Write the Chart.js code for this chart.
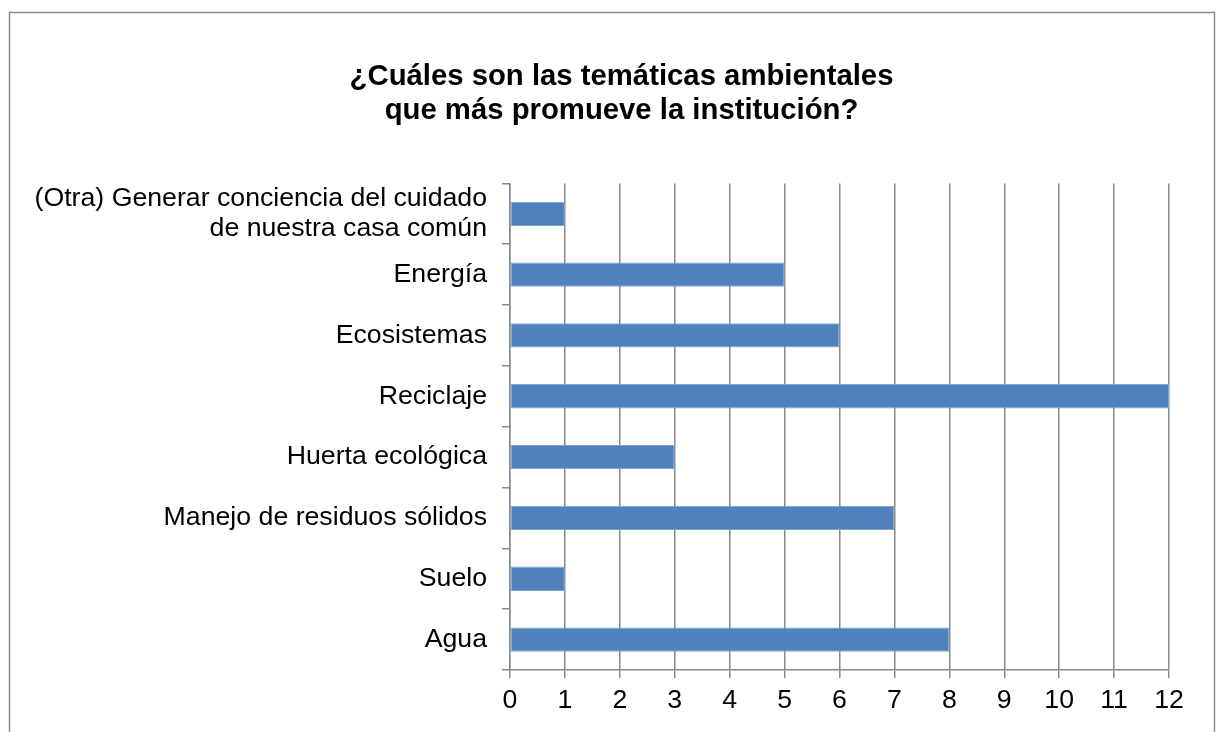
<!DOCTYPE html>
<html>
<head>
<meta charset="utf-8">
<title>Temáticas ambientales</title>
<script src="https://cdn.jsdelivr.net/npm/chart.js@4"></script>
<style>
  html, body { margin: 0; padding: 0; background: #ffffff; }
  canvas { display: block; }
</style>
</head>
<body>
<canvas id="chart" width="1218" height="732"></canvas>
<script>
// Categories, top to bottom as they appear in the chart
const categories = [
    ["(Otra) Generar conciencia del cuidado", "de nuestra casa común"],
    "Energía",
    "Ecosistemas",
    "Reciclaje",
    "Huerta ecológica",
    "Manejo de residuos sólidos",
    "Suelo",
    "Agua",
];

// Number of answers per category
const values = [1, 5, 6, 12, 3, 7, 1, 8];

// Title lines
const titleLines = ["¿Cuáles son las temáticas ambientales", "que más promueve la institución?"];

// x axis range
const xMin = 0;
const xMax = 12;
const xStep = 1;

const gridColor = "#8a8a8a";
const fontFamily = "'Liberation Sans', Arial, sans-serif";

// Outer frame round the chart, and nudge the title a bit to the right
const framePlugin = {
    id: "frame",
    afterLayout(chart) {
        if (chart.titleBlock) {
            chart.titleBlock.left += 27;
            chart.titleBlock.right += 27;
        }
    },
    beforeDraw(chart) {
        const ctx = chart.ctx;
        ctx.save();
        ctx.strokeStyle = "#8c8c8c";
        ctx.lineWidth = 1.5;
        ctx.strokeRect(9.5, 12.5, 1205, 800);
        ctx.restore();
    },
};

new Chart(document.getElementById("chart"), {
    type: "bar",
    plugins: [framePlugin],
    data: {
        labels: categories,
        datasets: [
            {
                data: values,
                backgroundColor: "#4f81bd",
                borderColor: "#7ea3d1",
                borderWidth: 1,
                borderSkipped: false,
                barPercentage: 0.4,
                categoryPercentage: 1,
            },
        ],
    },
    options: {
        indexAxis: "y",
        responsive: false,
        animation: false,
        layout: {
            padding: { left: 20, right: 49, top: 46, bottom: 8 },
        },
        plugins: {
            legend: { display: false },
            tooltip: { enabled: false },
            title: {
                display: true,
                text: titleLines,
                color: "#000000",
                font: { family: fontFamily, size: 29.3, weight: "bold", lineHeight: 1.15 },
                padding: { top: 14, bottom: 56 },
            },
        },
        scales: {
            x: {
                min: xMin,
                max: xMax,
                ticks: {
                    stepSize: xStep,
                    color: "#000000",
                    padding: 7,
                    font: { family: fontFamily, size: 26.7 },
                },
                grid: {
                    color: gridColor,
                    lineWidth: 1.5,
                    tickLength: 8,
                },
                border: { color: gridColor, width: 1.5 },
            },
            y: {
                afterFit(scale) {
                    scale.width = 490;
                },
                ticks: {
                    autoSkip: false,
                    color: "#000000",
                    padding: 15,
                    font: { family: fontFamily, size: 26.7, lineHeight: 1.125 },
                },
                grid: {
                    drawOnChartArea: false,
                    drawTicks: true,
                    tickLength: 8,
                    color: gridColor,
                    lineWidth: 1.5,
                },
                border: { color: gridColor, width: 1.5 },
            },
        },
    },
});
</script>
</body>
</html>
